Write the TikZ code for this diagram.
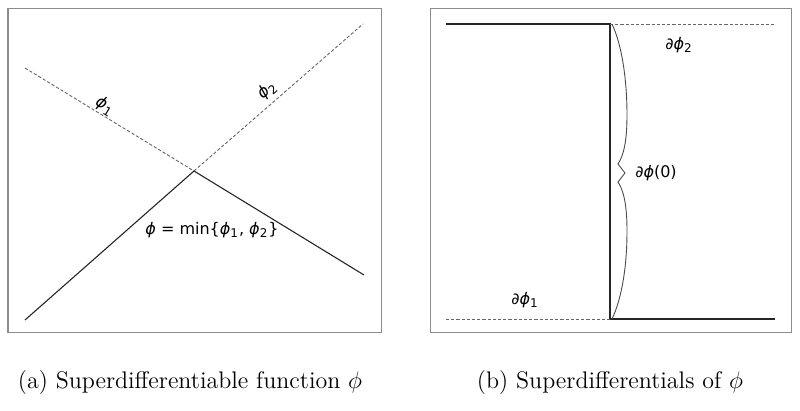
\documentclass[tikz,border=0pt]{standalone}
\usepackage{fontspec}
\newfontfamily\plotfont{DejaVu Sans}
\newcommand{\fphi}{\textit{ϕ}}
\tikzset{
	plotbox/.style={draw=black!45, line width=0.5pt},
	graphline/.style={draw=black!85, line width=0.55pt},
	guideline/.style={draw=black!60, line width=0.45pt, dash pattern=on 1.6pt off 1pt},
	plotlabel/.style={inner sep=0pt, font=\plotfont\fontsize{8}{9}\selectfont},
	captext/.style={inner sep=0pt, font=\fontsize{12}{14}\selectfont}
}

\begin{document}
\begin{tikzpicture}[x=0.5pt, y=-0.5pt]
			%%%%% START %%%%%
			\useasboundingbox (0, 0) rectangle (800, 411);
			
			% (a) the function
			\draw[plotbox] (8, 9) rectangle (381, 333);
			\coordinate (cross) at (194, 171);
			\coordinate (oneend) at (25, 68);
			\coordinate (twoend) at (363, 24);
			\coordinate (minleft) at (25, 320);
			\coordinate (minright) at (364, 275);
			
			\draw[guideline] (oneend) -- (cross);
			\draw[guideline] (cross) -- (twoend);
			\draw[graphline] (minleft) -- (cross) -- (minright);
			
			\node[plotlabel, rotate=-31] (onelabel) at (105, 106) {\fphi\textsubscript{1}};
			\node[plotlabel, rotate=41] (twolabel) at (267, 90) {\fphi\textsubscript{2}};
			\node[plotlabel] (minlabel) at (212, 230) {\fphi\ = min\{\fphi\textsubscript{1}, \fphi\textsubscript{2}\}};
			
			% (b) the superdifferentials
			\draw[plotbox] (430, 9) rectangle (791, 333);
			\coordinate (jumptop) at (610, 24);
			\coordinate (jumpbot) at (610, 319);
			\coordinate (topleft) at (446, 24);
			\coordinate (topright) at (775, 24);
			\coordinate (botleft) at (446, 319);
			\coordinate (botright) at (775, 319);
			
			\draw[graphline] (topleft) -- (jumptop) -- (jumpbot) -- (botright);
			\draw[guideline] (jumptop) -- (topright);
			\draw[guideline] (botleft) -- (jumpbot);
			
			% brace
			\draw[black!70, line width=0.45pt] (612, 24) .. controls (622, 45) and (627, 80) .. (627, 115)
				.. controls (627, 140) and (624, 155) .. (618, 164) -- (625, 173) -- (618, 182)
				.. controls (624, 191) and (627, 206) .. (627, 231)
				.. controls (627, 266) and (622, 298) .. (612, 319);
			
			\node[plotlabel] (jumplabel) at (656, 173) {∂\fphi(0)};
			\node[plotlabel] (twosub) at (679, 45) {∂\fphi\textsubscript{2}};
			\node[plotlabel] (onesub) at (525, 300) {∂\fphi\textsubscript{1}};
			
			% captions
			\node[captext] (capa) at (190, 383) {(a) Superdifferentiable function $\phi$};
			\node[captext] (capb) at (610, 383) {(b) Superdifferentials of $\phi$};
			%%%%% END %%%%%
\end{tikzpicture}
\end{document}
